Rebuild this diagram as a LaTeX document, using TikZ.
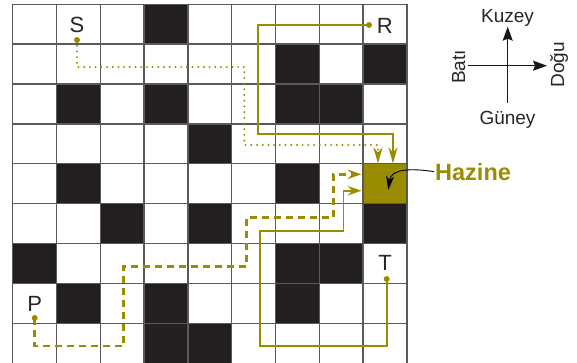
\documentclass[tikz,border=0pt]{standalone}
\usepackage{fontspec}
\setmainfont{Liberation Sans}
\usetikzlibrary{arrows.meta}
\definecolor{hazcol}{RGB}{153,140,0}
\definecolor{cellblack}{RGB}{35,31,32}
\definecolor{gridgray}{RGB}{90,90,90}
\tikzset{
  blackcell/.style={fill=cellblack},
  gridline/.style={draw=gridgray,line width=1.3pt},
  lbl/.style={font=\fontsize{22}{22}\selectfont,text=black!85,inner sep=0pt,anchor=base},
  clbl/.style={font=\fontsize{19}{19}\selectfont,text=black!85,inner sep=0pt,anchor=base},
  pathdot/.style={fill=hazcol},
  dotpath/.style={draw=hazcol,line width=2.2pt,line cap=round,dash pattern=on 0pt off 5.7pt,-{Stealth[length=16pt,width=9pt,inset=5pt]}},
  dashpath/.style={draw=hazcol,line width=2.6pt,dash pattern=on 7pt off 5pt,-{Stealth[length=14pt,width=9.5pt,inset=5pt]}},
  solidR/.style={draw=hazcol,line width=2.3pt,-{Stealth[length=16pt,width=9pt,inset=5pt]}},
  solidT/.style={draw=hazcol,line width=1.6pt,-{Stealth[length=14pt,width=9.5pt,inset=5pt]}},
  comparrow/.style={draw=black!90,line width=1.2pt,-{Stealth[length=14pt,width=10pt,inset=2pt]}},
}
\begin{document}
\begin{tikzpicture}[x=1pt,y=-1pt]
\useasboundingbox (0,0) rectangle (577,362);
% cells
\foreach \c/\r in {3/0,6/1,8/1,1/2,3/2,6/2,7/2,4/3,1/4,6/4,2/5,4/5,8/5,0/6,6/6,7/6,1/7,3/7,6/7,3/8,4/8}
  \fill[blackcell] ({12.7+43.8*\c},{4.2+39.9*\r}) rectangle ++(43.8,39.9);
\fill[hazcol] ({12.7+43.8*8},{4.2+39.9*4}) rectangle ++(43.8,39.9);
% grid
\foreach \i in {0,...,9}
  \draw[gridline] ({12.7+43.8*\i},4.2) -- ({12.7+43.8*\i},363.3);
\foreach \j in {0,...,9}
  \draw[gridline] (12.7,{4.2+39.9*\j}) -- (406.9,{4.2+39.9*\j});
% labels
\node[lbl] (S) at (77,32.3) {S};
\node[lbl] (R) at (384.7,33.3) {R};
\node[lbl] (T) at (385,270.7) {T};
\node[lbl] (P) at (34.7,311.7) {P};
% start points and goals
\coordinate (s0) at (77,40);
\coordinate (r0) at (369,25);
\coordinate (t0) at (386.7,279);
\coordinate (p0) at (34.7,318);
\coordinate (sEnd) at (378,163.5);
\coordinate (rEnd) at (393,163.5);
\coordinate (pEnd) at (361.5,174.3);
\coordinate (tEnd) at (361.5,190.7);
% paths
\draw[dotpath] (s0) -- (77,67) -- (244.3,67) -- (244.3,145) -- (378,145) -- (sEnd);
\draw[solidR] (r0) -- (258.3,25) -- (258.3,134.3) -- (393,134.3) -- (rEnd);
\draw[dashpath] (p0) -- (34.7,346) -- (123.3,346) -- (123.3,266.7) -- (246.7,266.7) -- (246.7,217.7) -- (333.3,217.7) -- (333.3,174.3) -- (pEnd);
\draw[solidT] (t0) -- (386.7,346) -- (260,346) -- (260,231) -- (343.3,231) -- (343.3,190.7) -- (tEnd);
\foreach \p in {s0,r0,t0,p0} \fill[pathdot] (\p) circle (3);
% Hazine
\node[font=\fontsize{23.5}{23.5}\selectfont\bfseries,text=hazcol,inner sep=1pt,anchor=base west] (hz) at (434,180) {Hazine};
\coordinate (hzTip) at (388.3,190);
\draw[black,line width=0.9pt,-{Stealth[length=14pt,width=8pt,inset=4pt]}] (hz.west) .. controls (410,168) and (391,169) .. (hzTip);
% compass
\coordinate (cN) at (507.7,26.7);
\coordinate (cS) at (507.7,103.3);
\coordinate (cW) at (468.3,65.7);
\coordinate (cE) at (547,65.7);
\draw[comparrow] (cS) -- (cN);
\draw[comparrow] (cW) -- (cE);
\node[clbl] (kuz) at (507.5,22.7) {Kuzey};
\node[clbl] (gun) at (507.5,124) {Güney};
\node[clbl,rotate=90] (bat) at (465,67) {Batı};
\node[clbl,rotate=90] (dog) at (564,65) {Doğu};
\end{tikzpicture}
\end{document}
